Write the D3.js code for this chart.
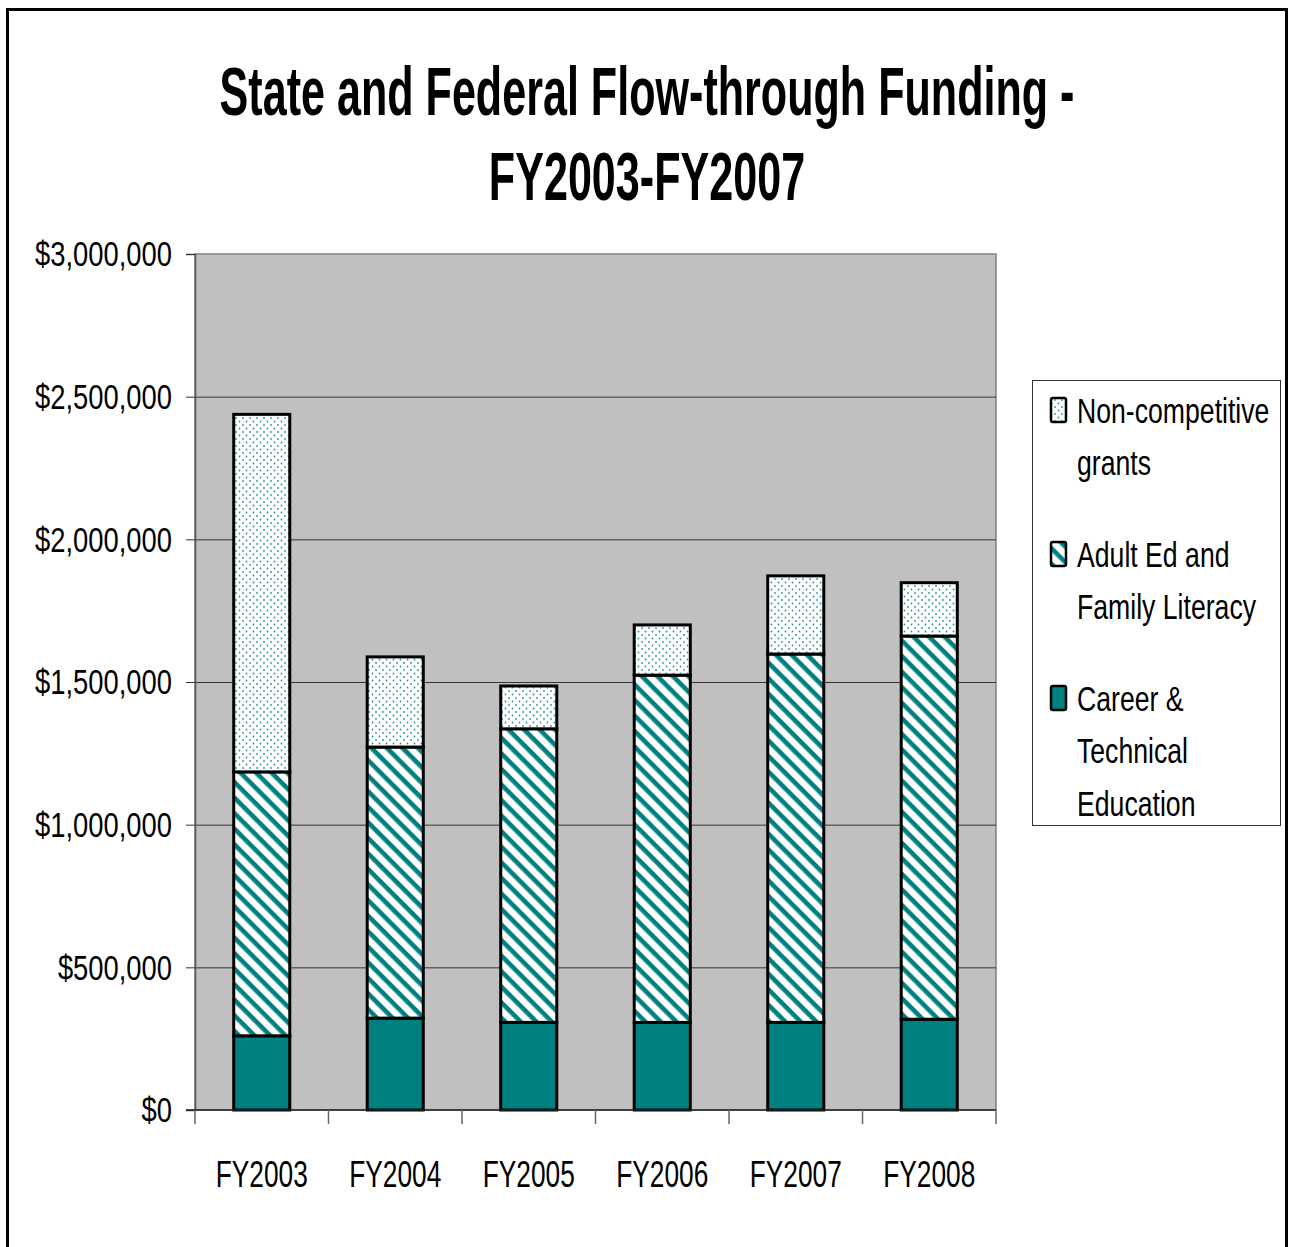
<!DOCTYPE html>
<html>
<head>
<meta charset="utf-8">
<script src="https://cdn.jsdelivr.net/npm/d3@7"></script>
<style>
body { margin: 0; background: #fff; }
text { font-family: "Liberation Sans", Arial, sans-serif; fill: #000; }
</style>
</head>
<body>
<svg width="1290" height="1247"></svg>
<script>
const years = ["FY2003", "FY2004", "FY2005", "FY2006", "FY2007", "FY2008"];
const career = [260000, 322000, 307000, 307000, 307000, 318000];
const adultEd = [925000, 950000, 1029000, 1217000, 1291000, 1343000];
const nonCompetitive = [1253000, 316000, 150000, 176000, 274000, 187000];
const yTicks = [0, 500000, 1000000, 1500000, 2000000, 2500000, 3000000];
const titleLines = ["State and Federal Flow-through Funding -", "FY2003-FY2007"];
const legendLabels = [
    ["Non-competitive", "grants"],
    ["Adult Ed and", "Family Literacy"],
    ["Career &", "Technical", "Education"]
];

const svg = d3.select("svg");
const width = 1290;
const height = 1247;
const teal = "#008080";

const plot = { left: 195, right: 996, top: 254, bottom: 1110 };

// narrow the text around its anchor x, the source chart uses a condensed face
function squeeze(sel, k) {
    sel.each(function() {
        const x = +d3.select(this).attr("x") || 0;
        d3.select(this)
            .attr("transform", `translate(${x},0) scale(${k},1) translate(${-x},0)`);
    });
}

// outer frame
svg.append("rect")
    .attr("x", 7.5).attr("y", 9.5)
    .attr("width", 1279).attr("height", 1240)
    .attr("fill", "#fff")
    .attr("stroke", "#000")
    .attr("stroke-width", 3);

const defs = svg.append("defs");

const stripes = defs.append("pattern")
    .attr("id", "stripes")
    .attr("patternUnits", "userSpaceOnUse")
    .attr("width", 11).attr("height", 11)
    .attr("patternTransform", "rotate(45)");
stripes.append("rect").attr("width", 11).attr("height", 11).attr("fill", "#fff");
stripes.append("rect").attr("width", 11).attr("height", 4.6).attr("fill", teal);

const dots = defs.append("pattern")
    .attr("id", "dots")
    .attr("patternUnits", "userSpaceOnUse")
    .attr("width", 7).attr("height", 7);
dots.append("rect").attr("width", 7).attr("height", 7).attr("fill", "#fff");
dots.append("circle").attr("cx", 1.5).attr("cy", 1.5).attr("r", 0.9).attr("fill", "#2a9696");
dots.append("circle").attr("cx", 5).attr("cy", 5).attr("r", 0.9).attr("fill", "#2a9696");

const fills = { career: teal, adult: "url(#stripes)", noncomp: "url(#dots)" };

const data = years.map((y, i) => ({
    year: y,
    career: career[i],
    adult: adultEd[i],
    noncomp: nonCompetitive[i]
}));

const keys = ["career", "adult", "noncomp"];
const stacked = d3.stack().keys(keys)(data);

const xScale = d3.scaleBand()
    .domain(years)
    .range([plot.left, plot.right])
    .paddingInner(0.58)
    .paddingOuter(0.29);

const yScale = d3.scaleLinear()
    .domain([0, 3000000])
    .range([plot.bottom, plot.top]);

// plot area
svg.append("rect")
    .attr("x", plot.left).attr("y", plot.top)
    .attr("width", plot.right - plot.left)
    .attr("height", plot.bottom - plot.top)
    .attr("fill", "#c0c0c0")
    .attr("stroke", "#808080")
    .attr("stroke-width", 1.5);

// gridlines
svg.append("g")
    .selectAll("line")
    .data(yTicks.slice(1, -1))
    .join("line")
    .attr("x1", plot.left).attr("x2", plot.right)
    .attr("y1", d => yScale(d) + 0.5).attr("y2", d => yScale(d) + 0.5)
    .attr("stroke", "#333")
    .attr("stroke-width", 1);

// y axis
const yAxis = d3.axisLeft(yScale)
    .tickValues(yTicks)
    .tickSize(9)
    .tickPadding(14)
    .tickFormat(d => "$" + d3.format(",")(d));

const gy = svg.append("g")
    .attr("transform", `translate(${plot.left}, 0)`)
    .call(yAxis);
gy.select(".domain").attr("stroke", "#555").attr("stroke-width", 1.5);
gy.selectAll(".tick line").attr("stroke", "#333");
gy.selectAll("text")
    .attr("font-size", 36)
    .attr("font-family", "Liberation Sans, Arial, sans-serif")
    .attr("dy", "0.33em")
    .call(squeeze, 0.76);

// bars
svg.append("g")
    .selectAll("g")
    .data(stacked)
    .join("g")
    .attr("fill", d => fills[d.key])
    .selectAll("rect")
    .data(d => d)
    .join("rect")
    .attr("x", d => xScale(d.data.year))
    .attr("y", d => yScale(d[1]))
    .attr("width", xScale.bandwidth())
    .attr("height", d => yScale(d[0]) - yScale(d[1]))
    .attr("stroke", "#000")
    .attr("stroke-width", 3);

// x axis
const gap = (xScale.step() - xScale.bandwidth()) / 2;
const edges = years.map(y => xScale(y) - gap).concat([plot.right]);

svg.append("line")
    .attr("x1", plot.left - 9).attr("x2", plot.right)
    .attr("y1", plot.bottom).attr("y2", plot.bottom)
    .attr("stroke", "#222")
    .attr("stroke-width", 1.5);

svg.append("g")
    .selectAll("line")
    .data(edges)
    .join("line")
    .attr("x1", d => d).attr("x2", d => d)
    .attr("y1", plot.bottom).attr("y2", plot.bottom + 14)
    .attr("stroke", "#666")
    .attr("stroke-width", 1.5);

svg.append("g")
    .selectAll("text")
    .data(years)
    .join("text")
    .attr("x", d => xScale(d) + xScale.bandwidth() / 2)
    .attr("y", 1187)
    .attr("text-anchor", "middle")
    .attr("font-size", 36)
    .text(d => d)
    .call(squeeze, 0.73);

// title
svg.append("g")
    .selectAll("text")
    .data(titleLines)
    .join("text")
    .attr("x", 647)
    .attr("y", (d, i) => 115 + i * 85)
    .attr("text-anchor", "middle")
    .attr("font-size", 68)
    .attr("font-weight", "bold")
    .text(d => d)
    .call(squeeze, 0.634);

// legend
const legend = svg.append("g");
legend.append("rect")
    .attr("x", 1032.5).attr("y", 380.5)
    .attr("width", 248).attr("height", 445)
    .attr("fill", "#fff")
    .attr("stroke", "#333")
    .attr("stroke-width", 1);

const legendKeys = ["noncomp", "adult", "career"];
const item = legend.selectAll("g.item")
    .data(legendKeys)
    .join("g")
    .attr("class", "item")
    .attr("transform", (d, i) => `translate(0, ${423 + i * 144})`);

item.append("rect")
    .attr("x", 1051).attr("y", -25)
    .attr("width", 15).attr("height", 24)
    .attr("rx", 2)
    .attr("fill", d => fills[d])
    .attr("stroke", "#000")
    .attr("stroke-width", 2.5);

item.each(function(d, i) {
    d3.select(this).selectAll("text")
        .data(legendLabels[i])
        .join("text")
        .attr("x", 1077)
        .attr("y", (t, j) => j * 52.5)
        .attr("font-size", 36)
        .text(t => t)
        .call(squeeze, 0.74);
});
</script>
</body>
</html>
